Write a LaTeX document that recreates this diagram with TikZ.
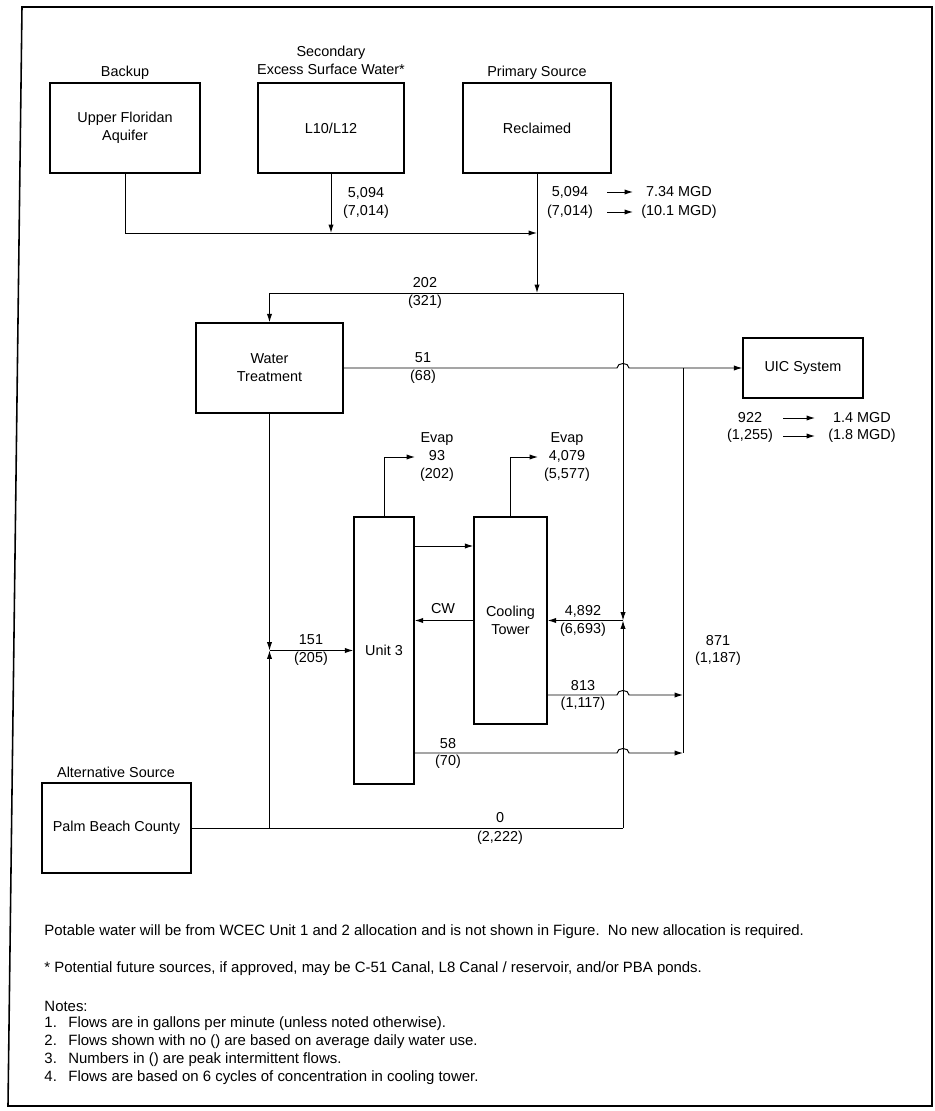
\documentclass[tikz,border=0pt]{standalone}
\usepackage{fontspec}
\setmainfont{Liberation Sans}
\usetikzlibrary{arrows.meta}
\begin{document}
\begin{tikzpicture}[x=0.02cm, y=-0.02cm, >={Latex[length=4.8pt,width=3pt]}, line width=0.55pt,
		font=\fontsize{8.2}{10.2}\selectfont,
		box/.style={draw, line width=0.8pt, align=center, inner sep=0pt},
		lbl/.style={align=center, inner sep=0pt},
		note/.style={anchor=west, inner sep=0pt, font=\fontsize{8.5}{10.2}\selectfont}]
	\useasboundingbox (0,0) rectangle (935,1111);
	% Rahmen
	\draw[line width=0.9pt] (22,7) -- (932,7) -- (932,1106) -- (8,1106) -- cycle;
	
	% Quellen
	\node[box, minimum width=3cm, minimum height=1.8cm] (aquifer) at (125,128) {Upper Floridan\\Aquifer};
	\node[box, minimum width=2.92cm, minimum height=1.8cm] (surface) at (331,128) {L10/L12};
	\node[box, minimum width=2.96cm, minimum height=1.8cm] (reclaimed) at (537,128) {Reclaimed};
	\node[box, minimum width=2.98cm, minimum height=1.8cm] (pbc) at (116.5,828) {Palm Beach County};
	\node[lbl] (backup) at (125,73) {Backup};
	\node[lbl] (secondary) at (331,60) {Secondary\\Excess Surface Water*};
	\node[lbl] (primary) at (537,73) {Primary Source};
	\node[lbl] (alternative) at (116,772) {Alternative Source};
	
	% Anlagen
	\node[box, minimum width=2.94cm, minimum height=1.8cm] (wt) at (269.5,368) {Water\\Treatment};
	\node[box, minimum width=2.4cm, minimum height=1.2cm] (uic) at (803,368) {UIC System};
	\node[box, minimum width=1.2cm, minimum height=5.34cm] (unit3) at (384,650.5) {Unit 3};
	\node[box, minimum width=1.46cm, minimum height=4.14cm] (tower) at (510.5,620.5) {Cooling\\Tower};
	
	% Knotenpunkte
	\coordinate (j1) at (537,233);
	\coordinate (j2) at (537,293);
	\coordinate (j3) at (269.5,293);
	\coordinate (j4) at (623,293);
	\coordinate (j5) at (623,620.5);
	\coordinate (j6) at (683,368);
	\coordinate (j7) at (683,753);
	\coordinate (j8) at (683,695);
	\coordinate (j9) at (269.5,650.5);
	\coordinate (j10) at (623,828);
	\coordinate (e1) at (415,457);
	\coordinate (e2) at (538,457);
	
	% Zulauf
	\draw[->] (aquifer.south) |- (j1);
	\draw[->] (surface.south) -- (surface.south |- j1);
	\node[lbl] (q1) at (366,193) {5,094};
	\node[lbl] (q2) at (366,212) {(7,014)};
	\draw[->] (reclaimed.south) -- (j2);
	\node[lbl] (r1) at (570,192) {5,094};
	\node[lbl] (r2) at (570,212) {(7,014)};
	\node[lbl] (m1) at (679,192) {7.34 MGD};
	\node[lbl] (m2) at (679,212) {(10.1 MGD)};
	\coordinate (r1s) at (607,192); \coordinate (r1e) at (633,192);
	\coordinate (r2s) at (607,212); \coordinate (r2e) at (633,212);
	\draw[->] (r1s) -- (r1e);
	\draw[->] (r2s) -- (r2e);
	
	% Verteilung
	\draw (j3) -- (j4);
	\draw[->] (j3) -- (wt.north);
	\draw[->] (j4) -- (j5);
	\node[lbl] at (425,283) {202};
	\node[lbl] at (425,302) {(321)};
	
	% Abwasser zum UIC
	\draw[->] (wt.east) -- (617,368) .. controls (617,362) and (629,362) .. (629,368) -- (uic.west);
	\node[lbl] at (423,358) {51};
	\node[lbl] at (423,377) {(68)};
	\draw (j6) -- (j7);
	\node[lbl] at (718,641) {871};
	\node[lbl] at (718,659) {(1,187)};
	\node[lbl] (u1) at (750,418) {922};
	\node[lbl] (u2) at (750,436) {(1,255)};
	\node[lbl] (v1) at (862,418) {1.4 MGD};
	\node[lbl] (v2) at (862,436) {(1.8 MGD)};
	\coordinate (u1s) at (783,418); \coordinate (u1e) at (815,418);
	\coordinate (u2s) at (783,436); \coordinate (u2e) at (815,436);
	\draw[->] (u1s) -- (u1e);
	\draw[->] (u2s) -- (u2e);
	
	% Unit 3 und Kuehlturm
	\draw[->] (wt.south) -- (j9);
	\draw (pbc.east) -- (j10);
	\draw[->] (pbc.east -| j9) -- (j9);
	\draw[->] (j10) -- (j5);
	\node[lbl] at (500,818) {0};
	\node[lbl] at (500,838) {(2,222)};
	\draw[->] (j9) -- (unit3.west);
	\node[lbl] at (311,640) {151};
	\node[lbl] at (311,659) {(205)};
	
	\draw[->] (unit3.north) |- (e1);
	\node[lbl] at (437,457) {Evap\\93\\(202)};
	\draw[->] (tower.north) |- (e2);
	\node[lbl] at (567,457) {Evap\\4,079\\(5,577)};
	
	\draw[->] (unit3.east |- 0,546) -- (tower.west |- 0,546);
	\draw[->] (tower.west) -- (tower.west -| unit3.east);
	\node[lbl] at (443,609) {CW};
	\draw[->] (j5) -- (tower.east);
	\node[lbl] at (583,611) {4,892};
	\node[lbl] at (583,630) {(6,693)};
	
	\draw[->] (tower.east |- 0,695) -- (617,695) .. controls (617,689) and (629,689) .. (629,695) -- (j8);
	\node[lbl] at (583,686) {813};
	\node[lbl] at (583,704) {(1,117)};
	\draw[->] (unit3.east |- 0,753) -- (617,753) .. controls (617,747) and (629,747) .. (629,753) -- (j7);
	\node[lbl] at (448,744) {58};
	\node[lbl] at (448,762) {(70)};
	
	% Hinweise
	\node[note] at (44,932) {Potable water will be from WCEC Unit 1 and 2 allocation and is not shown in Figure.\ \ No new allocation is required.};
	\node[note] at (44,969) {* Potential future sources, if approved, may be C-51 Canal, L8 Canal / reservoir, and/or PBA ponds.};
	\node[note] at (44,1006) {Notes:};
	\node[note] at (44,1024) {\makebox[13.6pt][l]{1.}Flows are in gallons per minute (unless noted otherwise).};
	\node[note] at (44,1042) {\makebox[13.6pt][l]{2.}Flows shown with no () are based on average daily water use.};
	\node[note] at (44,1060) {\makebox[13.6pt][l]{3.}Numbers in () are peak intermittent flows.};
	\node[note] at (44,1078) {\makebox[13.6pt][l]{4.}Flows are based on 6 cycles of concentration in cooling tower.};
\end{tikzpicture}
\end{document}
